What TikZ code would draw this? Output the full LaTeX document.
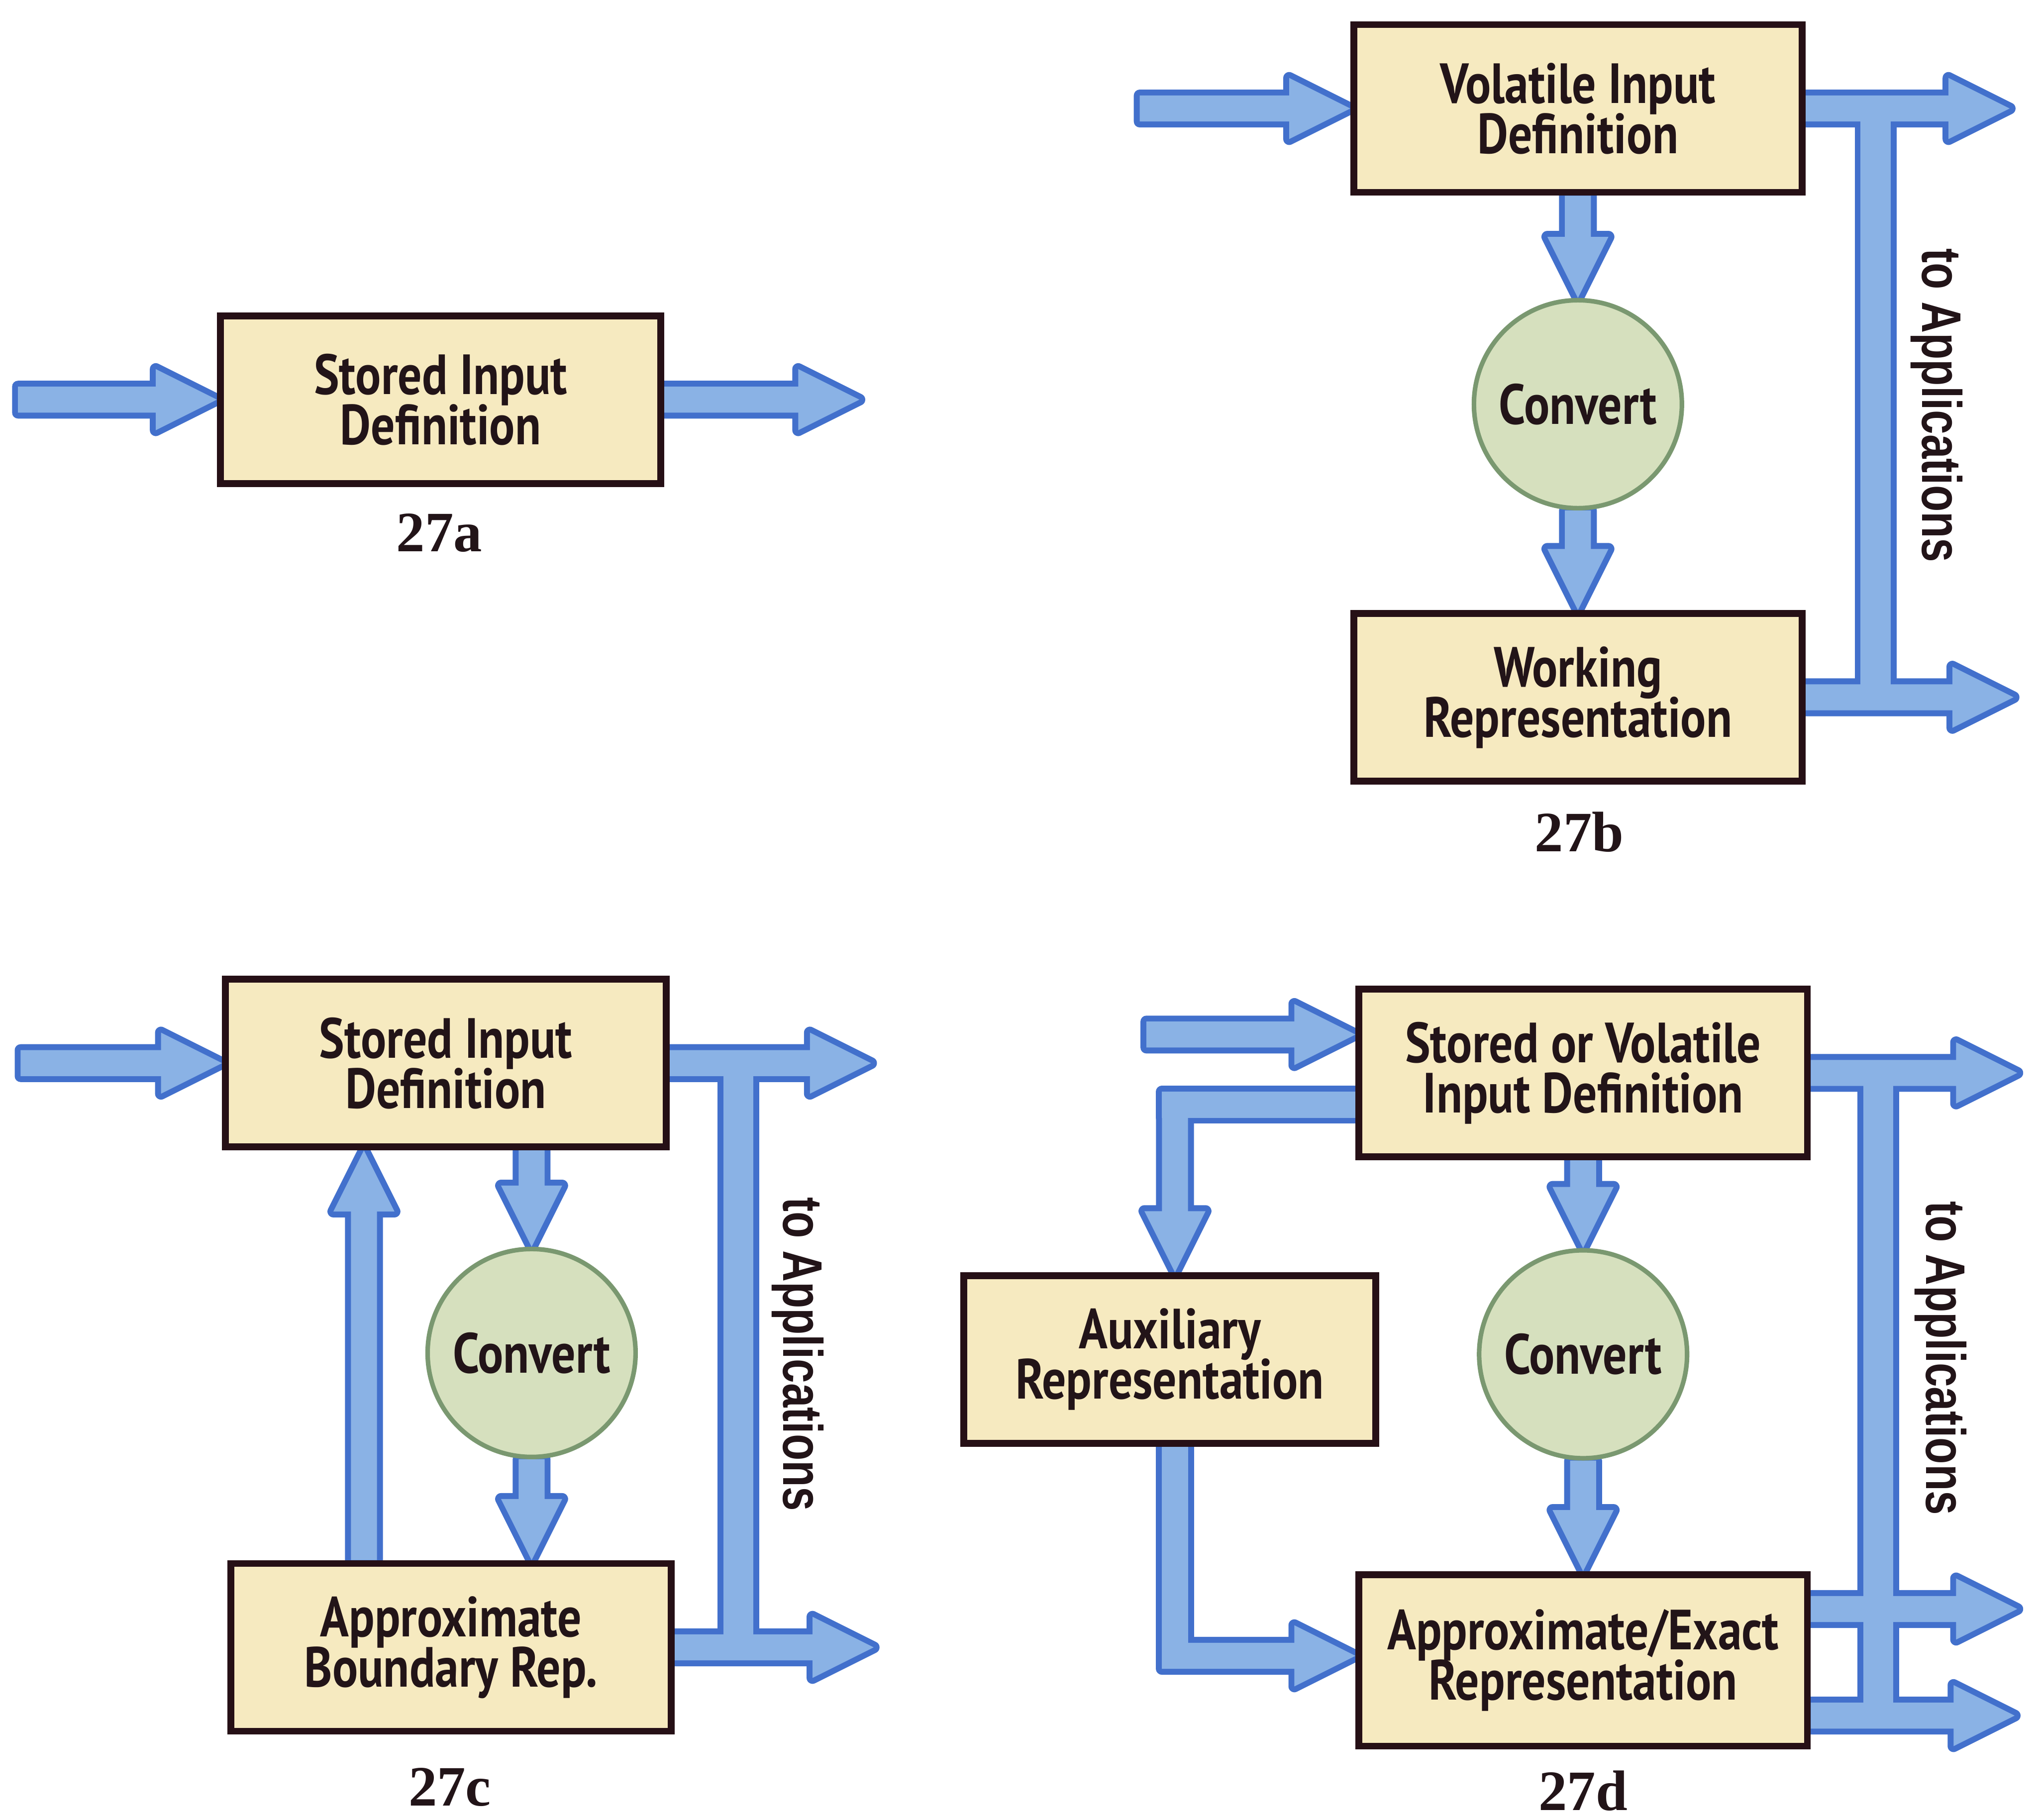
\documentclass[tikz,border=0pt]{standalone}
\usepackage{fontspec}
\setmainfont{PT Sans}[FakeStretch=0.84]
\newfontfamily\capfont{Liberation Serif}
\newfontfamily\sidefont{Liberation Sans}[FakeStretch=0.78]
\usepackage{xcolor}
\usepackage{tikz}
\usetikzlibrary{positioning, calc}

\definecolor{flowfill}{RGB}{138,178,229}
\definecolor{flowedge}{RGB}{66,112,204}
\definecolor{boxfill}{RGB}{246,234,192}
\definecolor{boxedge}{RGB}{38,16,22}
\definecolor{convfill}{RGB}{214,224,190}
\definecolor{convedge}{RGB}{122,152,112}
\definecolor{ink}{RGB}{34,20,24}

% tight two-line labels in the boxes
\newcommand{\boxfont}{\bfseries\fontsize{12.4}{11}\selectfont\lineskiplimit -6pt\relax}

% outlines of the fat arrows sit under their fills, so arrows that touch merge
\pgfdeclarelayer{edge}
\pgfdeclarelayer{flow}
\pgfsetlayers{edge,flow,main}
\newcommand{\flow}[1]{%
  \begin{pgfonlayer}{edge}\path[draw=flowedge, line width=2.6pt, line join=round] #1;\end{pgfonlayer}%
  \begin{pgfonlayer}{flow}\path[fill=flowfill] #1;\end{pgfonlayer}}

\begin{document}
\begin{tikzpicture}[
    box/.style={draw=boxedge, fill=boxfill, rectangle, line width=1.5pt,
                minimum width=3.39cm, minimum height=1.29cm, align=center, inner sep=2pt,
                text=ink, font=\boxfont},
    conv/.style={draw=convedge, fill=convfill, circle, line width=1pt,
                 minimum size=1.60cm, inner sep=0pt, text=ink,
                 font=\bfseries\fontsize{12.4}{12}\selectfont},
    fig/.style={text=ink, font=\capfont\bfseries\fontsize{12.5}{14}\selectfont},
    side/.style={rotate=-90, text=ink, font=\sidefont\bfseries\fontsize{12.2}{13}\selectfont},
    fat/.style={to path={
        ($(\tikztostart)!0.1cm!90:(\tikztotarget)$)
        -- ($(\tikztotarget)!0.47cm!(\tikztostart)!0.1cm!90:(\tikztotarget)$)
        -- ($(\tikztotarget)!0.47cm!(\tikztostart)!0.235cm!90:(\tikztotarget)$)
        -- (\tikztotarget)
        -- ($(\tikztotarget)!0.47cm!(\tikztostart)!0.235cm!-90:(\tikztotarget)$)
        -- ($(\tikztotarget)!0.47cm!(\tikztostart)!0.1cm!-90:(\tikztotarget)$)
        -- ($(\tikztostart)!0.1cm!-90:(\tikztotarget)$)
        -- cycle}},
]
\useasboundingbox (0,0) rectangle (15.68,14.00);

% === 27a: stored input only ===
\node[box] (sid_a) at (3.39,10.925) {Stored Input\\Definition};
\node[fig] (cap_a) at (3.38,9.90) {27a};
\coordinate[left=1.53cm of sid_a.west] (in_a);
\coordinate[right=1.50cm of sid_a.east] (out_a);
\flow{(in_a) to[fat] (sid_a.west)}
\flow{(sid_a.east) to[fat] (out_a)}

% === 27b: volatile input, converted ===
\node[box, minimum width=3.45cm] (vid) at (12.14,13.165) {Volatile Input\\Definition};
\node[conv] (conv_b) at (12.14,10.89) {Convert};
\node[box, minimum width=3.45cm] (wr) at (12.14,8.635) {Working\\Representation};
\node[fig] (cap_b) at (12.15,7.60) {27b};
\node[side] (app_b) at (14.90,10.88) {to Applications};

\coordinate[left=1.62cm of vid.west] (in_b);
\coordinate[right=1.57cm of vid.east] (out_b1);
\coordinate[right=1.60cm of wr.east] (out_b2);
\coordinate (bus_b) at (14.43,0);
\flow{(in_b) to[fat] (vid.west)}
\flow{(vid.south) to[fat] (conv_b.north)}
\flow{(conv_b.south) to[fat] (wr.north)}
\flow{($(bus_b |- wr.east)+(-0.115,0)$) rectangle ($(bus_b |- vid.east)+(0.115,0)$)}
\flow{(vid.east) to[fat] (out_b1)}
\flow{(wr.east) to[fat] (out_b2)}

% === 27c: stored input with boundary rep. fed back ===
\node[box] (sid_c) at (3.43,5.82) {Stored Input\\Definition};
\node[conv] (conv_c) at (4.09,3.59) {Convert};
\node[box] (abr) at (3.47,1.325) {Approximate\\Boundary Rep.};
\node[fig] (cap_c) at (3.46,0.25) {27c};
\node[side] (app_c) at (6.14,3.58) {to Applications};

\coordinate[left=1.55cm of sid_c.west] (in_c);
\coordinate[right=1.55cm of sid_c.east] (out_c1);
\coordinate[right=1.53cm of abr.east] (out_c2);
\coordinate (up_c) at (2.80,0);
\coordinate (bus_c) at (5.68,0);
\flow{(in_c) to[fat] (sid_c.west)}
\flow{(conv_c.north |- sid_c.south) to[fat] (conv_c.north)}
\flow{(conv_c.south) to[fat] (conv_c.south |- abr.north)}
\flow{(up_c |- abr.north) to[fat] (up_c |- sid_c.south)}
\flow{($(bus_c |- abr.east)+(-0.115,0)$) rectangle ($(bus_c |- sid_c.east)+(0.115,0)$)}
\flow{(sid_c.east) to[fat] (out_c1)}
\flow{(abr.east) to[fat] (out_c2)}

% === 27d: stored or volatile input with auxiliary rep. ===
\node[box, minimum width=3.45cm] (svid) at (12.18,5.745) {Stored or Volatile\\Input Definition};
\node[box, minimum width=3.17cm] (aux) at (9.00,3.54) {Auxiliary\\Representation};
\node[conv] (conv_d) at (12.18,3.58) {Convert};
\node[box, minimum width=3.45cm, minimum height=1.32cm] (apx) at (12.18,1.225) {Approximate/Exact\\Representation};
\node[fig] (cap_d) at (12.18,0.22) {27d};
\node[side] (app_d) at (14.93,3.55) {to Applications};

\coordinate (in_d) at (8.82,6.04);
\coordinate (loop_d) at (9.04,5.50);
\coordinate (back_d) at (9.04,1.26);
\coordinate (out_d1) at (15.52,5.745);
\coordinate (out_d2) at (15.52,1.62);
\coordinate (out_d3) at (15.50,0.80);
\coordinate (bus_d) at (14.45,0);
\flow{(in_d) to[fat] (svid.west |- in_d)}
% left loop: input definition -> auxiliary -> approximate/exact
\flow{($(loop_d)+(-0.10,-0.10)$) rectangle ($(svid.west |- loop_d)+(0,0.10)$)}
\flow{($(loop_d)+(0,0.10)$) to[fat] (loop_d |- aux.north)}
\flow{($(back_d |- aux.south)+(-0.10,0)$) rectangle ($(back_d)+(0.10,-0.10)$)}
\flow{($(back_d)+(-0.10,0)$) to[fat] (apx.west |- back_d)}
\flow{(conv_d.north |- svid.south) to[fat] (conv_d.north)}
\flow{(conv_d.south) to[fat] (conv_d.south |- apx.north)}
\flow{($(bus_d |- out_d3)+(-0.115,0)$) rectangle ($(bus_d |- svid.east)+(0.115,0)$)}
\flow{(svid.east) to[fat] (out_d1)}
\flow{(apx.east |- out_d2) to[fat] (out_d2)}
\flow{(apx.east |- out_d3) to[fat] (out_d3)}

\end{tikzpicture}
\end{document}
